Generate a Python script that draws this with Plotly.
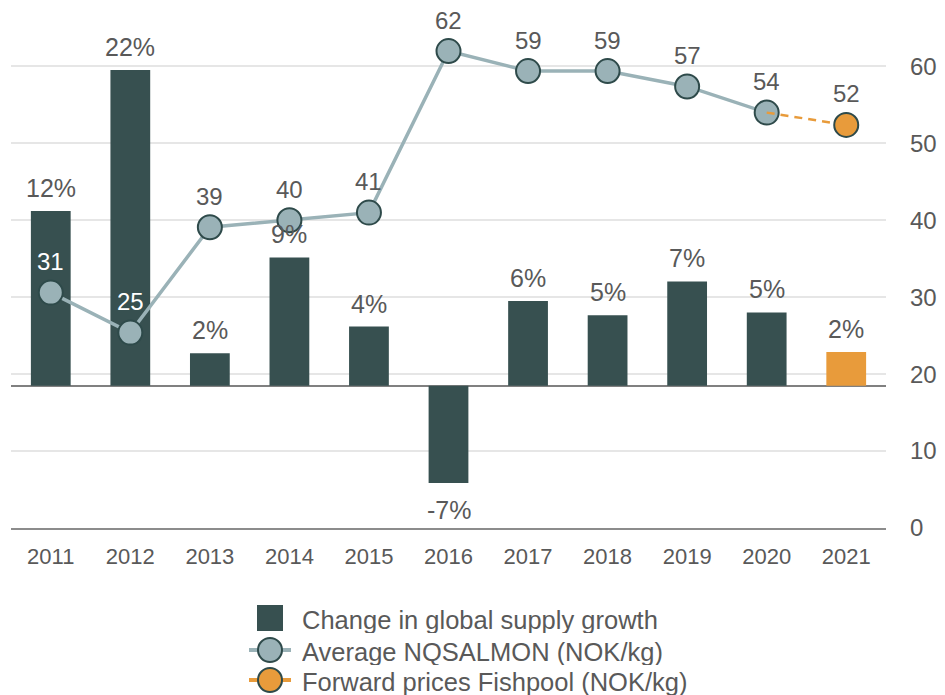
import plotly.graph_objects as go

# ---- data ----
years = ["2011", "2012", "2013", "2014", "2015", "2016", "2017", "2018", "2019", "2020", "2021"]
supply_growth = [12.4, 22.4, 2.3, 9.1, 4.2, -6.9, 6.0, 5.0, 7.4, 5.2, 2.4]  # % change
price_years = ["2011", "2012", "2013", "2014", "2015", "2016", "2017", "2018", "2019", "2020"]
avg_price = [30.6, 25.4, 39.1, 40.0, 41.0, 62.0, 59.4, 59.4, 57.4, 54.0]  # NOK/kg
forward_years = ["2020", "2021"]
forward_price = [54.0, 52.4]  # NOK/kg (2020 actual joins forward 2021)
price_ticks = [0, 10, 20, 30, 40, 50, 60]
legend_names = ["Change in global supply growth", "Average NQSALMON (NOK/kg)",
                "Forward prices Fishpool (NOK/kg)"]

# ---- styles ----
DARK = "#375050"
ORANGE = "#E89B3B"
LIGHT = "#9AB2B7"
BORDER = "#2E4A4A"
GREY_TXT = "#595959"
FONT = "Arial, Liberation Sans, sans-serif"

# the page body has an 8px margin; size the figure to fill the rest of the window
OFF = 8
W, H = 945 - OFF, 695 - OFF
ML, MR, MT, MB = 3, 59, 20, 167
PW, PH = W - ML - MR, H - MT - MB


def px_x(page_x):
    return (page_x - OFF - ML) / PW


def px_y(page_y):
    return (H - MB - (page_y - OFF)) / PH


bar_colors = [DARK] * (len(years) - 1) + [ORANGE]
cat_index = {y: i for i, y in enumerate(years)}

fig = go.Figure()

fig.add_trace(go.Bar(
    x=years, y=supply_growth, name=legend_names[0],
    marker=dict(color=bar_colors, line=dict(width=0)),
    width=0.5, yaxis="y", hoverinfo="skip", showlegend=False,
))

fig.add_trace(go.Scatter(
    x=price_years, y=avg_price, name=legend_names[1],
    mode="lines+markers", yaxis="y2", showlegend=False,
    line=dict(color=LIGHT, width=3.5),
    marker=dict(size=24, color=LIGHT, line=dict(color=BORDER, width=2)),
))

fig.add_trace(go.Scatter(
    x=forward_years, y=forward_price, mode="lines", yaxis="y2",
    line=dict(color=ORANGE, width=2.5, dash="8px,6px"),
    showlegend=False, hoverinfo="skip",
))

fig.add_trace(go.Scatter(
    x=forward_years[-1:], y=forward_price[-1:], name=legend_names[2],
    mode="markers", yaxis="y2", showlegend=False,
    marker=dict(size=24, color=ORANGE, line=dict(color=BORDER, width=2)),
))

annotations = []
for yr, v in zip(years, supply_growth):
    annotations.append(dict(
        x=cat_index[yr], y=v, xref="x", yref="y", text=f"{round(v):.0f}%", showarrow=False,
        yshift=23 if v >= 0 else -27, height=26,
        font=dict(size=25, color=GREY_TXT, family=FONT),
    ))
all_px = list(zip(price_years, avg_price)) + [(forward_years[-1], forward_price[-1])]
for i, (yr, v) in enumerate(all_px):
    on_bar = i < 2
    annotations.append(dict(
        x=cat_index[yr], y=v, xref="x", yref="y2", text=f"{round(v):.0f}", showarrow=False,
        yshift=31.5, height=20,
        font=dict(size=24, color="white" if on_bar else GREY_TXT, family=FONT),
    ))

# ---- manual legend (larger symbols, tighter rows, as in the reference) ----
icon_cx = 270
text_x = 300
row_icon_y = [618, 650, 680]
row_text_y = [619, 651, 681]
shapes = []
for name, ty in zip(legend_names, row_text_y):
    annotations.append(dict(
        x=px_x(text_x), y=px_y(ty), xref="paper", yref="paper", text=name,
        showarrow=False, xanchor="left", yanchor="middle", height=27,
        font=dict(size=25.5, color=GREY_TXT, family=FONT),
    ))
shapes.append(dict(
    type="rect", xref="paper", yref="paper", xsizemode="pixel", ysizemode="pixel",
    xanchor=px_x(icon_cx), yanchor=px_y(row_icon_y[0]),
    x0=-13, x1=13, y0=-13, y1=13, fillcolor=DARK, line=dict(width=0),
))
for iy, col in zip(row_icon_y[1:], [LIGHT, ORANGE]):
    shapes.append(dict(
        type="line", xref="paper", yref="paper", xsizemode="pixel", ysizemode="pixel",
        xanchor=px_x(icon_cx), yanchor=px_y(iy),
        x0=-21, x1=21, y0=0, y1=0, line=dict(color=col, width=4),
    ))
    shapes.append(dict(
        type="circle", xref="paper", yref="paper", xsizemode="pixel", ysizemode="pixel",
        xanchor=px_x(icon_cx), yanchor=px_y(iy),
        x0=-12, x1=12, y0=-12, y1=12, fillcolor=col, line=dict(color=BORDER, width=2),
    ))

fig.update_layout(
    width=W, height=H,
    margin=dict(l=ML, r=MR, t=MT, b=MB, autoexpand=False),
    paper_bgcolor="white", plot_bgcolor="white",
    font=dict(family=FONT, color=GREY_TXT),
    showlegend=False,
    xaxis=dict(
        type="category", categoryorder="array", categoryarray=years,
        range=[-0.5, len(years) - 0.5],
        showline=True, linecolor="#8C8C8C", linewidth=2,
        ticks="", showgrid=False, zeroline=False,
        tickfont=dict(size=22, color=GREY_TXT), ticklabelstandoff=8,
    ),
    yaxis=dict(
        range=[-10.09, 25.37], showticklabels=False, ticks="", showgrid=False,
        zeroline=True, zerolinecolor="#808080", zerolinewidth=2, showline=False,
    ),
    yaxis2=dict(
        overlaying="y", side="right", range=[0, 65],
        tickvals=price_ticks, ticks="", showline=False, zeroline=False,
        showgrid=True, gridcolor="#E6E6E6", gridwidth=1.5,
        tickfont=dict(size=24, color=GREY_TXT), ticklabelstandoff=23,
    ),
    bargap=0.5,
    annotations=annotations,
    shapes=shapes,
)

fig.write_html("out.html")
